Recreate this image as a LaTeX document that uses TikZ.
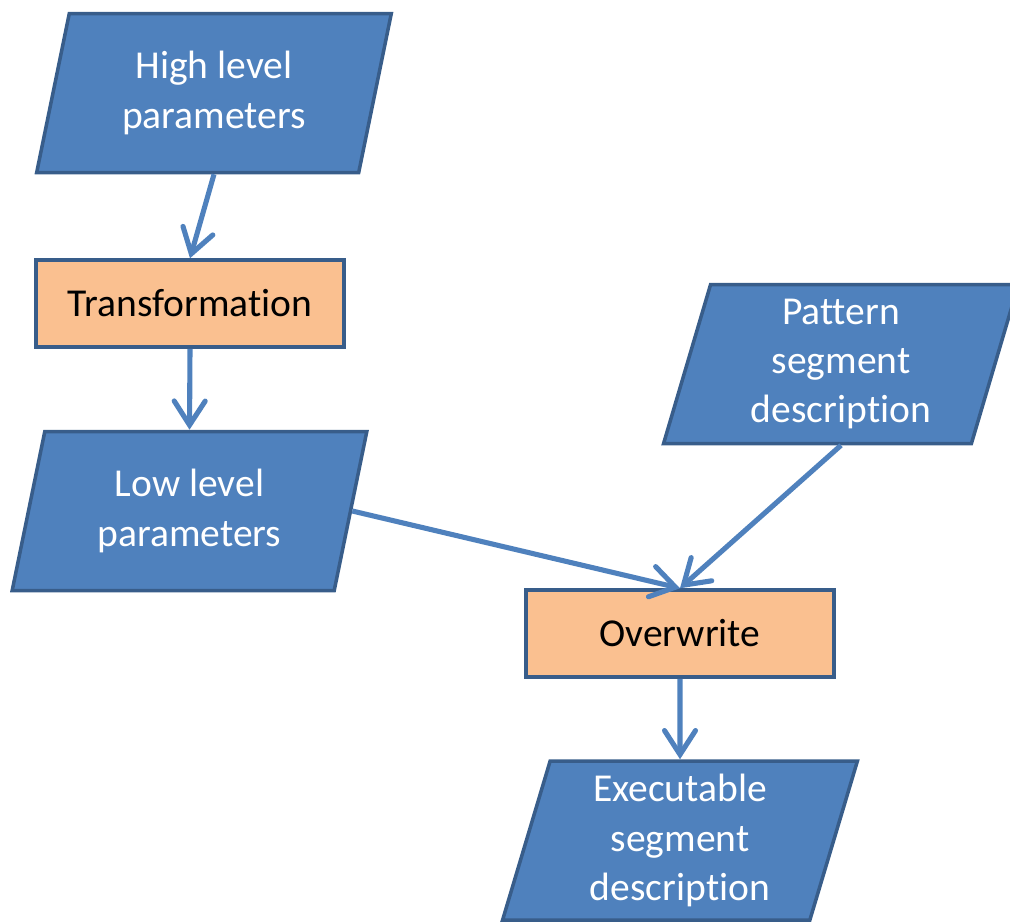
\documentclass[tikz,border=0pt]{standalone}
\usepackage{fontspec}
\setmainfont[Ligatures=NoCommon]{Carlito}
\usepackage{tikz}
\definecolor{flowblue}{RGB}{79,129,189}
\definecolor{edgeblue}{RGB}{56,93,138}
\definecolor{peach}{RGB}{250,192,144}
\usetikzlibrary{shapes.geometric, arrows.meta}

\begin{document}
\begin{tikzpicture}[
    datashape/.style={trapezium, trapezium left angle=76, trapezium right angle=104,
                      trapezium stretches=true, draw=edgeblue, line width=2pt, fill=flowblue,
                      minimum width=7.1cm, minimum height=3.18cm, inner sep=0pt,
                      text=white, align=center, font=\fontsize{22.5}{28}\selectfont},
    procbox/.style={rectangle, draw=edgeblue, line width=2pt, fill=peach,
                    minimum width=6.16cm, minimum height=1.74cm,
                    font=\fontsize{22.5}{28}\selectfont},
    flowarrow/.style={draw=flowblue, line width=2.9pt,
                      -{Straight Barb[length=0.48cm, width=0.62cm, line cap=round]}}
]
    \useasboundingbox (0,0) rectangle (20.2,-18.46);

    \node[datashape] (hi) at (4.28,-1.86) {High level\\parameters};
    \node[procbox] (trans) at (3.80,-6.07) {Transformation};
    \node[datashape] (lo) at (3.79,-10.22) {Low level\\parameters};
    \node[datashape] (pat) at (16.82,-7.28) {Pattern\\segment\\description};
    \node[procbox] (ovr) at (13.60,-12.67) {Overwrite};
    \node[datashape] (exe) at (13.60,-16.81) {Executable\\segment\\description};

    \draw[flowarrow] (hi.south) -- (trans.north);
    \draw[flowarrow] (trans.south) -- (lo.north);
    \draw[flowarrow] (lo.east) -- (ovr.north);
    \draw[flowarrow] (pat.south) -- (ovr.north);
    \draw[flowarrow] (ovr.south) -- (exe.north);
\end{tikzpicture}
\end{document}
